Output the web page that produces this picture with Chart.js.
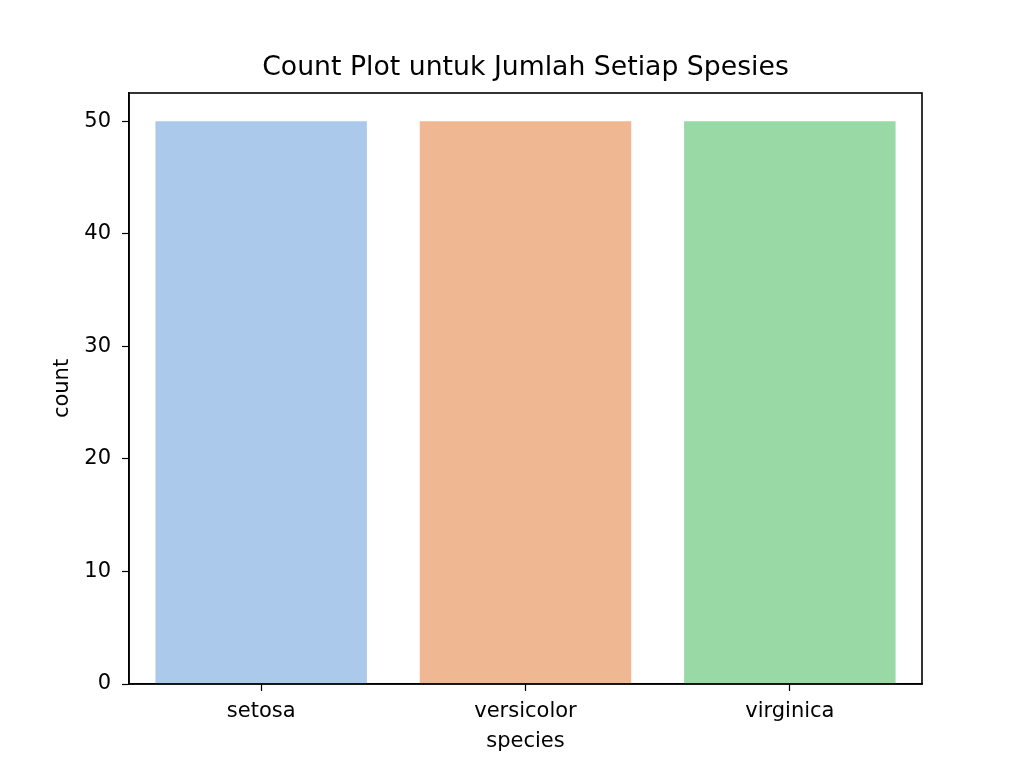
<!DOCTYPE html>
<html>
<head>
<meta charset="utf-8">
<script src="https://cdn.jsdelivr.net/npm/chart.js@4"></script>
<style>
  html, body { margin: 0; padding: 0; background: #fff; }
  #wrap { width: 1024px; height: 768px; }
</style>
</head>
<body>
<div id="wrap"><canvas id="speciesChart" width="1024" height="768"></canvas></div>
<script>
// Data
const species = ['setosa', 'versicolor', 'virginica'];
const counts = [50, 50, 50];
const barColors = ['#abc9ea', '#efb792', '#98d9a6'];
const yTicks = [0, 10, 20, 30, 40, 50];

const chartTitle = 'Count Plot untuk Jumlah Setiap Spesies';
const FONT = "'DejaVu Sans', sans-serif";

// Title above the axes + frame on top and right
const framePlugin = {
  id: 'frame',
  afterDraw(chart) {
    const ctx = chart.ctx;
    const a = chart.chartArea;
    ctx.save();
    ctx.strokeStyle = '#000';
    ctx.lineWidth = 1.6;
    ctx.strokeRect(a.left, a.top, a.right - a.left, a.bottom - a.top);
    ctx.fillStyle = '#000';
    ctx.font = '26.7px ' + FONT;
    ctx.textAlign = 'center';
    ctx.textBaseline = 'middle';
    ctx.fillText(chartTitle, (a.left + a.right) / 2, 68);
    ctx.restore();
  }
};

new Chart(document.getElementById('speciesChart'), {
  type: 'bar',
  data: {
    labels: species,
    datasets: [{
      label: 'count',
      data: counts,
      backgroundColor: barColors,
      borderWidth: 0,
      categoryPercentage: 1,
      barPercentage: 0.8
    }]
  },
  options: {
    responsive: false,
    animation: false,
    devicePixelRatio: 1,
    layout: { padding: { left: 0, right: 102, top: 93, bottom: 0 } },
    plugins: {
      legend: { display: false },
      tooltip: { enabled: false }
    },
    scales: {
      x: {
        offset: true,
        grid: {
          offset: false,
          drawOnChartArea: false,
          drawTicks: true,
          tickLength: 7,
          tickWidth: 1.2,
          color: '#000'
        },
        border: { display: true, color: '#000', width: 1.6 },
        ticks: { color: '#000', font: { family: FONT, size: 21 }, padding: 8, maxRotation: 0 },
        title: {
          display: true,
          text: 'species',
          color: '#000',
          font: { family: FONT, size: 21 },
          padding: { top: 0, bottom: 14 }
        },
        afterFit(scale) { scale.height = 84; }
      },
      y: {
        min: 0,
        max: 52.5,
        grid: {
          drawOnChartArea: false,
          drawTicks: true,
          tickLength: 7,
          tickWidth: 1.2,
          color: '#000'
        },
        border: { display: true, color: '#000', width: 1.6 },
        ticks: {
          color: '#000',
          font: { family: FONT, size: 21 },
          padding: 11,
          stepSize: 10,
          includeBounds: false
        },
        afterBuildTicks(scale) {
          scale.ticks = yTicks.map(v => ({ value: v }));
        },
        title: {
          display: true,
          text: 'count',
          color: '#000',
          font: { family: FONT, size: 21 },
          padding: { top: 50, bottom: 0 }
        },
        afterFit(scale) { scale.width = 129; }
      }
    }
  },
  plugins: [framePlugin]
});
</script>
</body>
</html>
